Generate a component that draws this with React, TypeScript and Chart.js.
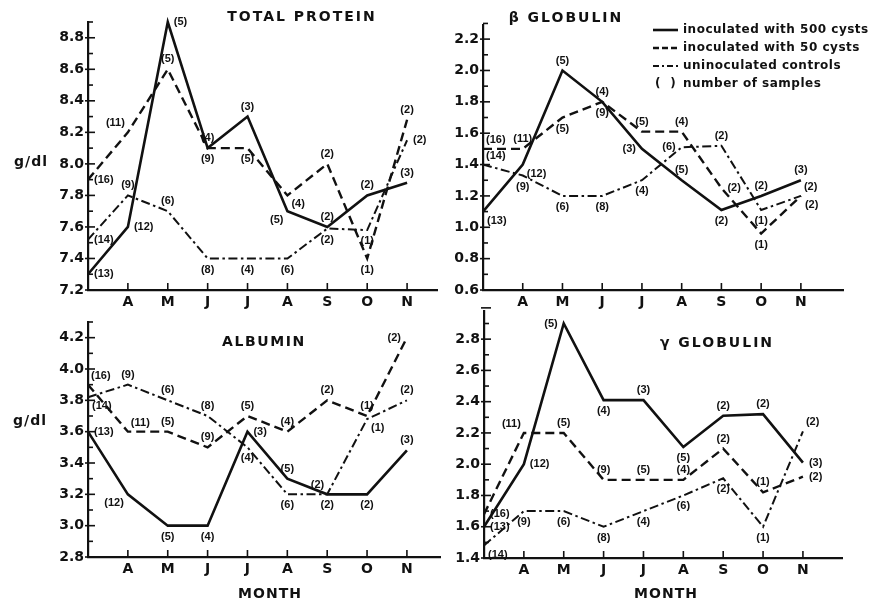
import React, { useEffect, useRef } from 'react';
import { Chart, registerables } from 'chart.js';

Chart.register(...registerables);

// ---------- data ----------
const MONTHS = ['', 'A', 'M', 'J', 'J', 'A', 'S', 'O', 'N'];
const SERIES_NAMES = ['inoculated with 500 cysts', 'inoculated with 50 cysts', 'uninoculated controls'];
const NOTE = 'number of samples';

// number of samples per month (same for all four panels)
const N_500 = [13, 12, 5, 4, 3, 5, 2, 2, 3];
const N_50 = [16, 11, 5, 9, 5, 4, 2, 1, 2];
const N_CTRL = [14, 9, 6, 8, 4, 6, 2, 1, 2];

// total protein (g/dl)
const TP_500 = [7.3, 7.6, 8.9, 8.1, 8.3, 7.7, 7.6, 7.8, 7.88];
const TP_50 = [7.9, 8.2, 8.6, 8.1, 8.1, 7.8, 8.0, 7.4, 8.28];
const TP_CTRL = [7.52, 7.8, 7.7, 7.4, 7.4, 7.4, 7.59, 7.58, 8.15];
const TP_TICKS = [7.2, 7.4, 7.6, 7.8, 8.0, 8.2, 8.4, 8.6, 8.8];

// beta globulin
const B_500 = [1.1, 1.4, 2.0, 1.8, 1.5, 1.3, 1.11, 1.2, 1.3];
const B_50 = [1.5, 1.5, 1.7, 1.8, 1.61, 1.61, 1.25, 0.96, 1.2];
const B_CTRL = [1.4, 1.33, 1.2, 1.2, 1.3, 1.51, 1.52, 1.11, 1.2];
const B_TICKS = [0.6, 0.8, 1.0, 1.2, 1.4, 1.6, 1.8, 2.0, 2.2];

// albumin
const A_500 = [3.6, 3.2, 3.0, 3.0, 3.6, 3.3, 3.2, 3.2, 3.48];
const A_50 = [3.9, 3.6, 3.6, 3.5, 3.7, 3.6, 3.8, 3.7, 4.2];
const A_CTRL = [3.82, 3.9, 3.8, 3.7, 3.5, 3.2, 3.2, 3.68, 3.8];
const A_TICKS = [2.8, 3.0, 3.2, 3.4, 3.6, 3.8, 4.0, 4.2];

// gamma globulin
const G_500 = [1.6, 2.0, 2.9, 2.41, 2.41, 2.11, 2.31, 2.32, 2.01];
const G_50 = [1.68, 2.2, 2.2, 1.9, 1.9, 1.9, 2.1, 1.82, 1.92];
const G_CTRL = [1.48, 1.7, 1.7, 1.6, 1.7, 1.8, 1.91, 1.6, 2.21];
const G_TICKS = [1.4, 1.6, 1.8, 2.0, 2.2, 2.4, 2.6, 2.8];

// ---------- layout / style ----------
const W = 873;
const H = 604;
const INK = '#111';
const BIG = 'bold 14px "DejaVu Sans", sans-serif';
const SMALL = 'bold 11px "Liberation Sans", Arial, sans-serif';
const LEG = 'bold 12px "DejaVu Sans", sans-serif';
const X_AXIS_H = 24;

const STYLES = [
  { dash: [] as number[], width: 2.6 },
  { dash: [9, 5], width: 2.4 },
  { dash: [9, 3.5, 2.5, 3.5], width: 2 },
];

// where each sample-count label sits relative to its point
const TP_POS = [
  ['r', 'r', 'r', 't', 't', 'bl', 't', 't', 't'],
  ['r', 'tl', 't', 'b', 'b', 'br', 't', 'b', 't'],
  ['r', 't', 't', 'b', 'b', 'b', 'b', 'b', 'r'],
];
const B_POS = [
  ['br', 'br', 't', 't', 'l', 't', 'b', 't', 't'],
  ['tr', 't', 'b', 'b', 't', 't', 'r', 'b', 'br'],
  ['tr', 'b', 'b', 'b', 'b', 'l', 't', 'b', 'tr'],
];
const A_POS = [
  ['r', 'bl', 'b', 'b', 'r', 't', 'tl', 'b', 't'],
  ['tr', 'tr', 't', 't', 't', 't', 't', 't', 'l'],
  ['br', 't', 't', 't', 'b', 'b', 'b', 'br', 't'],
];
const G_POS = [
  ['r', 'r', 'l', 'b', 't', 'b', 't', 't', 'r'],
  ['r', 'tl', 't', 't', 't', 't', 't', 't', 'r'],
  ['br', 'b', 'b', 'b', 'b', 'b', 'b', 'b', 'tr'],
];

const PANELS = [
  {
    title: 'TOTAL PROTEIN', titleSpacing: '2px', series: [TP_500, TP_50, TP_CTRL], ticks: TP_TICKS, pos: TP_POS,
    yMin: 7.2, yMax: 8.9, xMax: 8.75, box: { left: 88, right: 437, top: 22, bottom: 290 },
    titleAt: [302, 17], ylabel: [31, 162] as number[] | null, month: null as number[] | null, legend: false,
  },
  {
    title: 'β GLOBULIN', titleSpacing: '2px', series: [B_500, B_50, B_CTRL], ticks: B_TICKS, pos: B_POS,
    yMin: 0.6, yMax: 2.29, xMax: 9.06, box: { left: 483, right: 843, top: 25, bottom: 290 },
    titleAt: [566, 18], ylabel: null, month: null, legend: true,
  },
  {
    title: 'ALBUMIN', titleSpacing: '1.6px', series: [A_500, A_50, A_CTRL], ticks: A_TICKS, pos: A_POS,
    yMin: 2.8, yMax: 4.3, xMax: 8.83, box: { left: 88, right: 440, top: 322, bottom: 557 },
    titleAt: [264, 342], ylabel: [30, 421], month: [270, 594], legend: false,
  },
  {
    title: 'γ GLOBULIN', titleSpacing: '2px', series: [G_500, G_50, G_CTRL], ticks: G_TICKS, pos: G_POS,
    yMin: 1.4, yMax: 2.98, xMax: 8.98, box: { left: 484, right: 842, top: 311, bottom: 558 },
    titleAt: [717, 343], ylabel: null, month: [666, 594], legend: false,
  },
];

const COUNTS = [N_500, N_50, N_CTRL];

const PLACE: Record<string, [CanvasTextAlign, number, number]> = {
  t: ['center', 0, -10],
  b: ['center', 0, 11],
  r: ['left', 6, 0],
  l: ['right', -6, 0],
  tr: ['left', 3, -9],
  br: ['left', 4, 9],
  tl: ['right', -3, -9],
  bl: ['right', -4, 9],
};

function spacedText(ctx: CanvasRenderingContext2D, text: string, x: number, y: number, spacing: string) {
  (ctx as any).letterSpacing = spacing;
  ctx.fillText(text, x, y);
  (ctx as any).letterSpacing = '0px';
}

function Panel({ cfg }: { cfg: (typeof PANELS)[number] }) {
  const ref = useRef<HTMLCanvasElement>(null);
  useEffect(() => {
    const overlay = {
      id: 'overlay',
      afterDraw(chart: any) {
        const ctx: CanvasRenderingContext2D = chart.ctx;
        const xs = chart.scales.x;
        const ys = chart.scales.y;
        const { left, bottom } = chart.chartArea;
        ctx.save();
        ctx.strokeStyle = INK;
        ctx.fillStyle = INK;
        // inward ticks on y axis (every 0.1)
        ctx.lineWidth = 1.6;
        const steps = Math.round((cfg.yMax - cfg.yMin) / 0.1);
        for (let k = 0; k <= steps; k++) {
          const v = cfg.yMin + k * 0.1;
          const py = ys.getPixelForValue(v);
          const major = k % 2 === 0;
          ctx.beginPath();
          ctx.moveTo(left - (major ? 3 : 0), py);
          ctx.lineTo(left + (major ? 7 : 5), py);
          ctx.stroke();
        }
        // inward ticks on x axis
        for (let i = 1; i < MONTHS.length; i++) {
          const px = xs.getPixelForValue(i);
          ctx.beginPath();
          ctx.moveTo(px, bottom);
          ctx.lineTo(px, bottom - 7);
          ctx.stroke();
        }
        // title
        ctx.font = BIG;
        ctx.textAlign = 'center';
        ctx.textBaseline = 'middle';
        spacedText(ctx, cfg.title, cfg.titleAt[0], cfg.titleAt[1], cfg.titleSpacing);
        if (cfg.ylabel) spacedText(ctx, 'g/dl', cfg.ylabel[0], cfg.ylabel[1], '1px');
        if (cfg.month) spacedText(ctx, 'MONTH', cfg.month[0], cfg.month[1], '1px');
        // sample counts
        ctx.font = SMALL;
        ctx.textBaseline = 'middle';
        cfg.series.forEach((_s, si) => {
          const meta = chart.getDatasetMeta(si);
          meta.data.forEach((pt: any, j: number) => {
            const p = PLACE[cfg.pos[si][j]];
            ctx.textAlign = p[0];
            ctx.fillText('(' + COUNTS[si][j] + ')', pt.x + p[1], pt.y + p[2]);
          });
        });
        // legend
        if (cfg.legend) {
          const lx0 = 653, lx1 = 678, tx = 683;
          const rows = [30, 48, 66, 84];
          ctx.font = LEG;
          ctx.textAlign = 'left';
          SERIES_NAMES.forEach((name, k) => {
            ctx.lineWidth = STYLES[k].width;
            ctx.setLineDash(k === 1 ? [6, 3] : k === 2 ? [6, 3, 2, 3] : []);
            ctx.beginPath();
            ctx.moveTo(lx0, rows[k]);
            ctx.lineTo(lx1, rows[k]);
            ctx.stroke();
            ctx.setLineDash([]);
            spacedText(ctx, name, tx, rows[k], '0.5px');
          });
          spacedText(ctx, '(  )', 655, rows[3], '0.5px');
          spacedText(ctx, NOTE, tx, rows[3], '0.5px');
        }
        ctx.restore();
      },
    };

    const chart = new Chart(ref.current as HTMLCanvasElement, {
      type: 'line',
      data: {
        datasets: cfg.series.map((vals, k) => ({
          data: vals.map((v, i) => ({ x: i, y: v })),
          borderColor: INK,
          borderWidth: STYLES[k].width,
          borderDash: STYLES[k].dash,
          pointRadius: 0,
          tension: 0,
          fill: false,
          clip: false as any,
        })),
      },
      options: {
        responsive: false,
        animation: false,
        devicePixelRatio: 1,
        layout: {
          padding: {
            left: 0,
            top: cfg.box.top,
            right: W - cfg.box.right,
            bottom: H - cfg.box.bottom - X_AXIS_H,
          },
        },
        plugins: { legend: { display: false }, tooltip: { enabled: false } },
        scales: {
          x: {
            type: 'linear',
            min: 0,
            max: cfg.xMax,
            grid: { display: false, drawTicks: false },
            border: { display: true, color: INK, width: 2.2 },
            afterBuildTicks: (s: any) => {
              s.ticks = MONTHS.map((_m, i) => ({ value: i })).filter((t) => t.value > 0);
            },
            afterFit: (s: any) => {
              s.height = X_AXIS_H;
            },
            ticks: {
              autoSkip: false,
              maxRotation: 0,
              padding: 4,
              color: INK,
              font: { family: '"DejaVu Sans", sans-serif', weight: 'bold', size: 14 },
              callback: (v: any) => MONTHS[Math.round(v)] ?? '',
            },
          },
          y: {
            type: 'linear',
            min: cfg.yMin,
            max: cfg.yMax,
            grid: { display: false, drawTicks: false },
            border: { display: true, color: INK, width: 2.2 },
            afterBuildTicks: (s: any) => {
              s.ticks = cfg.ticks.map((v) => ({ value: v }));
            },
            afterFit: (s: any) => {
              s.width = cfg.box.left;
            },
            ticks: {
              padding: 4,
              color: INK,
              font: { family: '"DejaVu Sans", sans-serif', weight: 'bold', size: 14 },
              callback: (v: any) => Number(v).toFixed(1),
            },
          },
        },
      },
      plugins: [overlay],
    } as any);
    return () => chart.destroy();
  }, []);
  return (
    <canvas
      ref={ref}
      width={W}
      height={H}
      style={{ position: 'absolute', left: 0, top: 0, width: W, height: H }}
    />
  );
}

export default function App() {
  return (
    <div style={{ position: 'absolute', left: 0, top: 0, width: W, height: H, background: '#fff', overflow: 'hidden' }}>
      {PANELS.map((p, i) => (
        <Panel key={i} cfg={p} />
      ))}
    </div>
  );
}
